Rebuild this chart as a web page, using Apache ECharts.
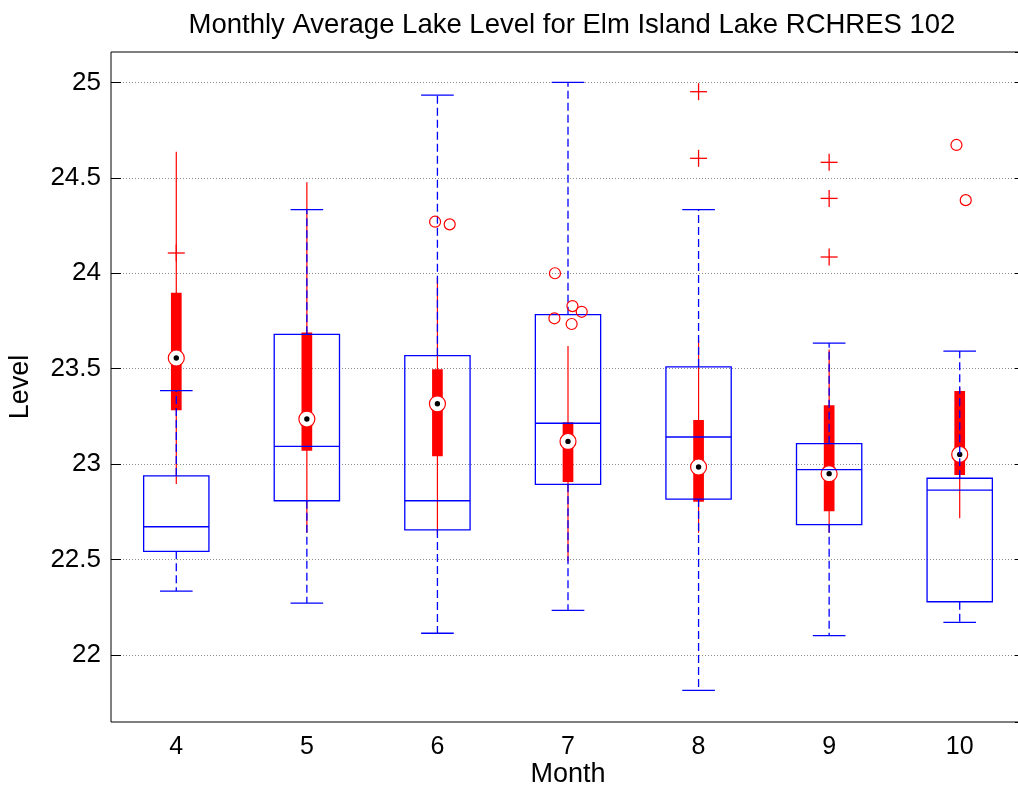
<!DOCTYPE html>
<html>
<head>
<meta charset="utf-8">
<script src="https://cdn.jsdelivr.net/npm/echarts@6/dist/echarts.min.js"></script>
<style>
  html, body { margin: 0; padding: 0; background: #fff; }
  #chart { width: 1018px; height: 789px; }
</style>
</head>
<body>
<div id="chart"></div>
<script>
// months on the x axis
const months = ['4', '5', '6', '7', '8', '9', '10'];

// wide blue boxplot
const blueLow = [22.335, 22.272, 22.114, 22.234, 21.815, 22.101, 22.171];
const blueQ1 = [22.543, 22.808, 22.655, 22.894, 22.817, 22.683, 22.279];
const blueMedian = [22.672, 23.093, 22.808, 23.214, 23.142, 22.971, 22.864];
const blueQ3 = [22.938, 23.680, 23.568, 23.783, 23.509, 23.107, 22.926];
const blueHigh = [23.385, 24.333, 24.933, 25.000, 24.333, 23.634, 23.592];

// compact red boxplot
const redLow = [22.896, 22.640, 22.630, 22.490, 22.640, 22.640, 22.716];
const redQ1 = [23.282, 23.070, 23.041, 22.906, 22.803, 22.753, 22.943];
const redMedian = [23.556, 23.236, 23.316, 23.119, 22.985, 22.950, 23.051];
const redQ3 = [23.898, 23.690, 23.497, 23.219, 23.231, 23.308, 23.383];
const redHigh = [24.636, 24.476, 23.975, 23.619, 23.650, 23.600, 23.400];

// outliers of the blue boxplot (+)
const plusMonth = [0, 4, 4, 5, 5, 5];
const plusValue = [24.106, 24.951, 24.602, 24.581, 24.392, 24.085];

// outliers of the red boxplot (o), jittered sideways
const circleMonth = [2, 2, 3, 3, 3, 3, 3, 6, 6];
const circleJitter = [-0.018, 0.094, -0.10, 0.034, 0.105, -0.104, 0.028, -0.025, 0.046];
const circleValue = [24.270, 24.256, 24.000, 23.828, 23.798, 23.764, 23.734, 24.672, 24.383];

const yTickLabels = ['22', '22.5', '23', '23.5', '24', '24.5', '25'];

const FONT = "'Liberation Sans', Arial, Helvetica, sans-serif";
const BLUE = '#0000ff';
const RED = '#ff0000';

const blueRows = months.map((m, i) => [i, blueLow[i], blueQ1[i], blueMedian[i], blueQ3[i], blueHigh[i]]);
const redRows = months.map((m, i) => [i, redLow[i], redQ1[i], redMedian[i], redQ3[i], redHigh[i]]);
const plusRows = plusMonth.map((m, i) => [m, plusValue[i]]);
const circleRows = circleMonth.map((m, i) => [m, circleValue[i], circleJitter[i]]);

function renderRed(params, api) {
  const i = api.value(0);
  const band = api.size([1, 0])[0];
  const lo = api.coord([i, api.value(1)]);
  const q1 = api.coord([i, api.value(2)]);
  const med = api.coord([i, api.value(3)]);
  const q3 = api.coord([i, api.value(4)]);
  const hi = api.coord([i, api.value(5)]);
  const x = med[0];
  const w = band * 0.082;
  return {
    type: 'group',
    children: [
      { type: 'line', shape: { x1: x, y1: lo[1], x2: x, y2: hi[1] }, style: { stroke: RED, lineWidth: 1.2 } },
      { type: 'rect', shape: { x: x - w / 2, y: q3[1], width: w, height: q1[1] - q3[1] }, style: { fill: RED } },
      { type: 'circle', shape: { cx: x, cy: med[1], r: 8 }, style: { fill: '#fff', stroke: RED, lineWidth: 1.2 } },
      { type: 'circle', shape: { cx: x, cy: med[1], r: 2.7 }, style: { fill: '#000' } }
    ]
  };
}

function renderBlue(params, api) {
  const i = api.value(0);
  const band = api.size([1, 0])[0];
  const lo = api.coord([i, api.value(1)]);
  const q1 = api.coord([i, api.value(2)]);
  const med = api.coord([i, api.value(3)]);
  const q3 = api.coord([i, api.value(4)]);
  const hi = api.coord([i, api.value(5)]);
  const x = med[0];
  const hw = band * 0.25;
  const cw = band * 0.125;
  const solid = { stroke: BLUE, lineWidth: 1.3, fill: null };
  const dashed = { stroke: BLUE, lineWidth: 1.3, lineDash: [8, 4] };
  return {
    type: 'group',
    children: [
      { type: 'line', shape: { x1: x, y1: q1[1], x2: x, y2: lo[1] }, style: dashed },
      { type: 'line', shape: { x1: x, y1: q3[1], x2: x, y2: hi[1] }, style: dashed },
      { type: 'line', shape: { x1: x - cw, y1: lo[1], x2: x + cw, y2: lo[1] }, style: solid },
      { type: 'line', shape: { x1: x - cw, y1: hi[1], x2: x + cw, y2: hi[1] }, style: solid },
      { type: 'rect', shape: { x: x - hw, y: q3[1], width: hw * 2, height: q1[1] - q3[1] }, style: solid },
      { type: 'line', shape: { x1: x - hw, y1: med[1], x2: x + hw, y2: med[1] }, style: solid }
    ]
  };
}

function renderPlus(params, api) {
  const p = api.coord([api.value(0), api.value(1)]);
  const s = 8.5;
  const st = { stroke: RED, lineWidth: 1.3 };
  return {
    type: 'group',
    children: [
      { type: 'line', shape: { x1: p[0] - s, y1: p[1], x2: p[0] + s, y2: p[1] }, style: st },
      { type: 'line', shape: { x1: p[0], y1: p[1] - s, x2: p[0], y2: p[1] + s }, style: st }
    ]
  };
}

function renderCircle(params, api) {
  const band = api.size([1, 0])[0];
  const p = api.coord([api.value(0), api.value(1)]);
  return {
    type: 'circle',
    shape: { cx: p[0] + api.value(2) * band, cy: p[1], r: 5.5 },
    style: { fill: null, stroke: RED, lineWidth: 1.2 }
  };
}

const yMin = 21.649;
const yMax = 25.159;

const yAxisBase = {
  type: 'value',
  min: yMin,
  max: yMax,
  splitNumber: 7,
  axisLine: { show: false },
  axisTick: { show: true, inside: true, length: 10, lineStyle: { color: '#000', width: 1 } }
};

const chart = echarts.init(document.getElementById('chart'), null, { renderer: 'canvas' });

chart.setOption({
  animation: false,
  backgroundColor: '#fff',
  title: {
    text: 'Monthly Average Lake Level for Elm Island Lake RCHRES 102',
    left: 567,
    top: 6,
    textAlign: 'center',
    textStyle: { fontFamily: FONT, fontSize: 27.5, fontWeight: 'normal', color: '#000' }
  },
  grid: {
    left: 111,
    right: -7,
    top: 52,
    bottom: 67,
    outerBoundsMode: 'none',
    containLabel: false,
    show: true,
    borderColor: '#000',
    borderWidth: 1,
    backgroundColor: '#fff'
  },
  xAxis: {
    type: 'category',
    data: months,
    boundaryGap: true,
    name: 'Month',
    nameLocation: 'middle',
    nameGap: 39,
    nameMoveOverlap: false,
    nameTextStyle: { fontFamily: FONT, fontSize: 27, color: '#000' },
    axisLine: { show: false },
    axisTick: { show: false },
    splitLine: { show: false },
    axisLabel: { fontFamily: FONT, fontSize: 25, color: '#000', margin: 13 }
  },
  yAxis: [
    Object.assign({}, yAxisBase, {
      position: 'left',
      name: 'Level',
      nameLocation: 'middle',
      nameGap: 77,
      nameTextStyle: { fontFamily: FONT, fontSize: 27, color: '#000' },
      axisLabel: {
        fontFamily: FONT, fontSize: 26, color: '#000', margin: 10,
        showMinLabel: false, showMaxLabel: false,
        formatter: v => {
          const s = String(Math.round(v * 10) / 10);
          return yTickLabels.indexOf(s) >= 0 ? s : '';
        }
      },
      splitLine: {
        show: true, showMinLine: false, showMaxLine: false,
        lineStyle: { color: '#8a8a8a', width: 1, type: [1, 2] }
      }
    }),
    Object.assign({}, yAxisBase, {
      position: 'right',
      axisLabel: { show: false },
      splitLine: { show: false }
    })
  ],
  series: [
    { type: 'custom', renderItem: renderRed, data: redRows, encode: { x: 0, y: [1, 2, 3, 4, 5] }, z: 2 },
    { type: 'custom', renderItem: renderBlue, data: blueRows, encode: { x: 0, y: [1, 2, 3, 4, 5] }, z: 3 },
    { type: 'custom', renderItem: renderPlus, data: plusRows, encode: { x: 0, y: 1 }, z: 4 },
    { type: 'custom', renderItem: renderCircle, data: circleRows, encode: { x: 0, y: 1 }, z: 4 }
  ]
});
</script>
</body>
</html>
